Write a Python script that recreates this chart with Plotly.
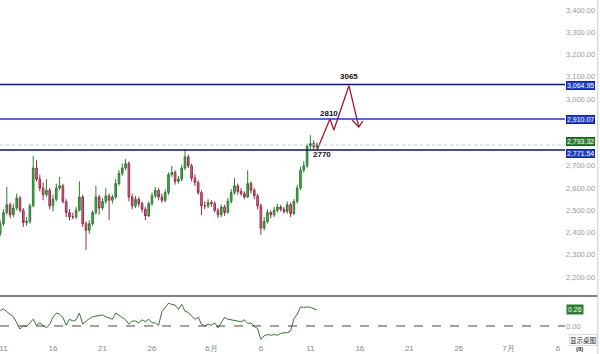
import pandas as pd
import plotly.graph_objects as go

# ---------------- data ----------------
START = "2025-05-10 16:00"   # 8h candles
OPEN = [2395, 2440, 2490, 2525, 2480, 2510, 2555, 2500, 2445, 2450,
        2520, 2690, 2640, 2600, 2570, 2590, 2520, 2550, 2600, 2610,
        2540, 2490, 2470, 2470, 2500, 2560, 2440, 2410, 2440, 2490,
        2560, 2510, 2540, 2565, 2545, 2560, 2620, 2665, 2690, 2710,
        2560, 2520, 2550, 2530, 2505, 2475, 2530, 2565, 2590, 2560,
        2545, 2580, 2660, 2670, 2630, 2640, 2690, 2740, 2700, 2645,
        2625, 2580, 2520, 2520, 2535, 2530, 2500, 2480, 2515, 2490,
        2540, 2580, 2610, 2585, 2575, 2560, 2620, 2590, 2565, 2520,
        2420, 2450, 2490, 2480, 2500, 2515, 2505, 2495, 2525, 2485,
        2540, 2600, 2680, 2700, 2790, 2800, 2785]
CLOSE = [2440, 2490, 2525, 2480, 2510, 2555, 2500, 2445, 2450, 2520,
         2690, 2640, 2600, 2570, 2590, 2520, 2550, 2600, 2610, 2540,
         2490, 2470, 2470, 2500, 2560, 2440, 2410, 2440, 2490, 2560,
         2510, 2540, 2565, 2545, 2560, 2620, 2665, 2690, 2710, 2560,
         2520, 2550, 2530, 2505, 2475, 2530, 2565, 2590, 2560, 2545,
         2580, 2660, 2670, 2630, 2640, 2690, 2740, 2700, 2645, 2625,
         2580, 2520, 2520, 2535, 2530, 2500, 2480, 2515, 2490, 2540,
         2580, 2610, 2585, 2575, 2560, 2620, 2590, 2565, 2520, 2420,
         2450, 2490, 2480, 2500, 2515, 2505, 2495, 2525, 2485, 2540,
         2600, 2680, 2700, 2790, 2800, 2785, 2793]
HIGH = [2455, 2505, 2605, 2535, 2530, 2575, 2565, 2510, 2470, 2530,
        2745, 2725, 2660, 2625, 2640, 2600, 2570, 2620, 2650, 2620,
        2550, 2505, 2490, 2515, 2630, 2570, 2450, 2455, 2500, 2610,
        2570, 2555, 2600, 2575, 2570, 2640, 2680, 2710, 2730, 2720,
        2575, 2565, 2560, 2540, 2515, 2540, 2580, 2605, 2600, 2575,
        2595, 2670, 2700, 2680, 2655, 2705, 2775, 2750, 2710, 2660,
        2635, 2590, 2540, 2550, 2545, 2540, 2510, 2525, 2525, 2555,
        2595, 2645, 2620, 2600, 2585, 2680, 2630, 2600, 2575, 2530,
        2470, 2505, 2500, 2515, 2530, 2525, 2515, 2540, 2535, 2550,
        2615, 2695, 2720, 2800, 2838, 2815, 2805]
LOW = [2385, 2430, 2480, 2465, 2470, 2500, 2490, 2425, 2430, 2440,
       2515, 2630, 2585, 2545, 2560, 2505, 2495, 2540, 2590, 2530,
       2470, 2455, 2460, 2460, 2495, 2425, 2321, 2395, 2430, 2480,
       2480, 2500, 2530, 2456, 2530, 2550, 2610, 2655, 2680, 2540,
       2505, 2510, 2515, 2490, 2456, 2470, 2520, 2555, 2545, 2535,
       2535, 2570, 2650, 2615, 2620, 2630, 2680, 2690, 2630, 2610,
       2570, 2479, 2505, 2510, 2515, 2490, 2465, 2470, 2475, 2485,
       2530, 2570, 2570, 2565, 2550, 2555, 2575, 2550, 2505, 2389,
       2410, 2440, 2465, 2470, 2490, 2495, 2485, 2485, 2470, 2480,
       2530, 2590, 2670, 2690, 2775, 2770, 2775]
OSC = [0.25, 0.28, 0.23, 0.19, 0.15, 0.05, -0.05, 0.00, -0.01, 0.05,
       0.11, 0.01, 0.05, 0.01, -0.03, 0.03, 0.14, 0.21, 0.19, 0.14,
       0.01, 0.11, 0.08, 0.10, 0.21, 0.03, 0.08, 0.12, 0.15, 0.16,
       0.16, 0.18, 0.15, 0.13, 0.11, 0.21, 0.17, 0.13, 0.10, 0.03,
       0.08, 0.08, 0.05, 0.10, 0.07, 0.11, 0.05, 0.05, 0.01, 0.23,
       0.31, 0.37, 0.35, 0.34, 0.27, 0.35, 0.24, 0.22, 0.16, 0.11,
       0.14, 0.03, 0.00, 0.03, 0.01, 0.05, -0.03, 0.05, 0.14, 0.11,
       0.10, 0.08, 0.08, 0.07, 0.10, 0.04, 0.05, -0.01, -0.04, -0.22,
       -0.16, -0.14, -0.15, -0.14, -0.15, -0.12, -0.11, -0.11, -0.08, 0.12,
       0.19, 0.31, 0.30, 0.31, 0.30, 0.28, 0.26]
OSC_LAST = 0.26

LEVELS = [3064.95, 2910.07, 2771.54]
LEVEL_COLORS = ["#0b1a5c", "#1f3cb8", "#0b1a5c"]
LEVEL_LABEL_SHIFT = [-1, 0, -4]
CURRENT = 2793.32

# projected path
PROJ_T = ["2025-06-11 16:00", "2025-06-12 23:30", "2025-06-13 09:00",
          "2025-06-14 21:30", "2025-06-15 21:30"]
PROJ_P = [2770, 2910, 2861, 3060, 2874]
ARROW_T = ["2025-06-15 05:00", "2025-06-15 21:30", "2025-06-16 07:00"]
ARROW_P = [2906, 2874, 2901]
PROJ_LABELS = [("2770", "2025-06-12 03:00", 2753),
               ("2810", "2025-06-12 20:00", 2935),
               ("3065", "2025-06-14 21:00", 3100)]

PRICE_TICKS = [2200, 2300, 2400, 2500, 2600, 2700, 3000, 3100, 3200, 3300, 3400]
X_TICKS = ["2025-05-11", "2025-05-16", "2025-05-21", "2025-05-26", "2025-06-01", "2025-06-06",
           "2025-06-11", "2025-06-16", "2025-06-21", "2025-06-26", "2025-07-01", "2025-07-06"]
X_TICKTEXT = ["11", "16", "21", "26", "6月", "6", "11", "16", "21", "26", "7月", "6"]
X_RANGE = ["2025-05-10 15:30", "2025-07-06 17:20"]

times = pd.date_range(START, periods=len(CLOSE), freq="8h")

FONT = "Liberation Sans, Arial, sans-serif"
fig = go.Figure()

fig.add_trace(go.Candlestick(
    x=times, open=OPEN, high=HIGH, low=LOW, close=CLOSE,
    increasing=dict(line=dict(color="#2e7d32", width=1), fillcolor="#4caf50"),
    decreasing=dict(line=dict(color="#9b2a4a", width=1), fillcolor="#d07a96"),
    whiskerwidth=0, xaxis="x", yaxis="y", showlegend=False))

for lv, col in zip(LEVELS, LEVEL_COLORS):
    fig.add_shape(type="line", xref="paper", x0=0, x1=1, yref="y", y0=lv, y1=lv,
                  line=dict(color=col, width=1.5))
fig.add_shape(type="line", xref="paper", x0=0, x1=1, yref="y", y0=CURRENT, y1=CURRENT,
              line=dict(color="#c8c8c8", width=1, dash="dot"))

fig.add_trace(go.Scatter(x=pd.to_datetime(PROJ_T), y=PROJ_P, mode="lines",
                         line=dict(color="#a3192f", width=1.3), xaxis="x", yaxis="y",
                         showlegend=False))
fig.add_trace(go.Scatter(x=pd.to_datetime(ARROW_T), y=ARROW_P, mode="lines",
                         line=dict(color="#a3192f", width=1.3), xaxis="x", yaxis="y",
                         showlegend=False))

fig.add_trace(go.Scatter(x=times, y=OSC, mode="lines",
                         line=dict(color="#3f6e3f", width=1), xaxis="x2", yaxis="y2",
                         showlegend=False))
fig.add_shape(type="line", xref="paper", x0=0, x1=1, yref="y2", y0=0, y1=0,
              line=dict(color="#444", width=1, dash="dash"))

# separator + right border
fig.add_shape(type="line", xref="paper", x0=0, x1=1.058, yref="paper",
              y0=(354 - 12 - 296) / 342, y1=(354 - 12 - 296) / 342,
              line=dict(color="#555", width=1.5))
fig.add_shape(type="line", xref="paper", x0=1.058, x1=1.058, yref="paper", y0=-0.04, y1=1,
              line=dict(color="#ccc", width=1))

ann = []
for lbl, t, p in PROJ_LABELS:
    ann.append(dict(x=t, y=p, xref="x", yref="y", text=f"<b>{lbl}</b>", showarrow=False,
                    font=dict(size=8, color="#111", family=FONT)))
for lv, sh in zip(LEVELS, LEVEL_LABEL_SHIFT):
    ann.append(dict(x=1, y=lv, xref="paper", yref="y", xanchor="left", xshift=1, yshift=sh,
                    text=f"{lv:,.2f}", showarrow=False, bgcolor="#1f3fc4",
                    bordercolor="#12288a", borderwidth=1, borderpad=0,
                    font=dict(size=7, color="white", family=FONT)))
ann.append(dict(x=1, y=CURRENT, xref="paper", yref="y", xanchor="left", xshift=1, yshift=4,
                text=f"{CURRENT:,.2f}", showarrow=False, bgcolor="#2e7d32",
                bordercolor="#1f5e22", borderwidth=1, borderpad=0,
                font=dict(size=7, color="white", family=FONT)))
ann.append(dict(x=1, y=OSC_LAST, xref="paper", yref="y2", xanchor="left", xshift=1,
                text=f"{OSC_LAST:.2f}", showarrow=False, bgcolor="#2e7d32",
                borderpad=1, font=dict(size=7, color="white", family=FONT)))
ann.append(dict(x=1.036, y=-12 / 342, xref="paper", yref="paper", yanchor="bottom",
                text="<b>(8)</b>", showarrow=False,
                font=dict(size=6, color="#333", family=FONT)))
ann.append(dict(x=1.057, y=8 / 342, xref="paper", yref="paper", xanchor="right", yanchor="top",
                text="显示桌图", showarrow=False, bgcolor="white", bordercolor="#ddd",
                borderwidth=1, borderpad=0,
                font=dict(size=6.5, color="#222", family="Noto Sans CJK SC")))

fig.update_layout(
    width=600, height=354,
    margin=dict(l=0, r=35, t=0, b=12),
    paper_bgcolor="white", plot_bgcolor="white",
    font=dict(family=FONT, size=8, color="#999"),
    showlegend=False,
    xaxis=dict(domain=[0, 1], range=X_RANGE, anchor="y", matches="x2",
               showticklabels=False, showgrid=False, zeroline=False,
               rangeslider=dict(visible=False), showline=False),
    xaxis2=dict(domain=[0, 1], range=X_RANGE, anchor="y2",
                tickvals=pd.to_datetime(X_TICKS), ticktext=X_TICKTEXT,
                ticklabeloverflow="allow",
                showgrid=False, zeroline=False, ticks="", showline=False,
                tickfont=dict(size=8, color="#888", family=FONT)),
    yaxis=dict(domain=[(342 - 296) / 342, 1], range=[2115, 3445], side="right",
               tickvals=PRICE_TICKS, tickformat=",.2f", showgrid=False, zeroline=False,
               ticks="", tickfont=dict(size=7.5, color="#9a9a9a", family=FONT)),
    yaxis2=dict(domain=[0, (342 - 297) / 342], range=[-0.26, 0.47], side="right",
                tickvals=[0], ticktext=["0.00"], showgrid=False, zeroline=False,
                ticks="", tickfont=dict(size=7.5, color="#9a9a9a", family=FONT)),
    annotations=ann,
)

fig.write_html("out.html")
